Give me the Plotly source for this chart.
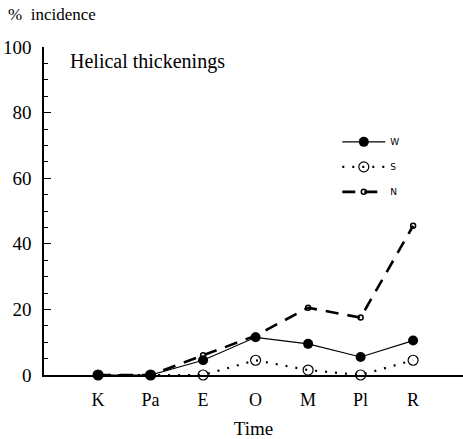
import plotly.graph_objects as go

stages = ["K", "Pa", "E", "O", "M", "Pl", "R"]
w_vals = [0, 0, 4.5, 11.5, 9.5, 5.5, 10.5]
s_vals = [0, 0, 0, 4.5, 1.5, 0, 4.5]
n_vals = [0, 0, 6, 12, 20.5, 17.5, 45.5]
y_ticks = [0, 20, 40, 60, 80, 100]

FONT = "Liberation Serif"
x_idx = list(range(len(stages)))

fig = go.Figure()
fig.add_trace(go.Scatter(
    x=x_idx, y=w_vals, name="W", legendgroup="w", mode="lines+markers",
    line=dict(color="black", width=1.2),
    marker=dict(symbol="circle", size=10, color="black"),
    cliponaxis=False))
fig.add_trace(go.Scatter(
    x=x_idx, y=s_vals, name="S", legendgroup="s", mode="lines+markers",
    line=dict(color="black", width=2.2, dash="2px,8px"),
    marker=dict(symbol="circle-open", size=10, color="black", line=dict(width=1.2)),
    cliponaxis=False))
fig.add_trace(go.Scatter(
    x=x_idx, y=n_vals, name="N", legendgroup="n", mode="lines+markers",
    line=dict(color="black", width=2.6, dash="13px,9px"),
    marker=dict(symbol="circle-open", size=5, color="black", line=dict(width=1.5)),
    cliponaxis=False))

fig.update_layout(
    width=463, height=439,
    margin=dict(l=44, r=0, t=47, b=64),
    paper_bgcolor="white", plot_bgcolor="white",
    font=dict(family=FONT, color="black", size=15),
    showlegend=True,
    legend=dict(x=0.70, y=0.755, xanchor="left", yanchor="top",
                font=dict(family="DejaVu Sans", size=9), itemwidth=43,
                tracegroupgap=6, bgcolor="rgba(0,0,0,0)"),
    xaxis=dict(
        range=[-1.03, 6.95], tickmode="array", tickvals=x_idx, ticktext=stages,
        showgrid=False, zeroline=False, showline=True, linecolor="black", linewidth=2,
        ticks="", tickfont=dict(family=FONT, size=18), ticklabelstandoff=7,
        title=dict(text="Time", font=dict(family=FONT, size=19), standoff=14)),
    yaxis=dict(
        range=[0, 100], tickmode="array", tickvals=y_ticks,
        showgrid=False, zeroline=False, showline=True, linecolor="black", linewidth=1.5,
        ticks="inside", ticklen=7, tickwidth=1.3, tickcolor="black",
        minor=dict(ticks="inside", dtick=5, ticklen=4, tickwidth=1, tickcolor="black"),
        tickfont=dict(family=FONT, size=19), ticklabelstandoff=7),
    annotations=[
        dict(text="%  incidence", xref="paper", yref="paper", x=-0.090, y=1.10,
             xanchor="left", yanchor="middle", showarrow=False,
             font=dict(family=FONT, size=17)),
        dict(text="Helical thickenings", xref="paper", yref="paper", x=0.057, y=0.957,
             xanchor="left", yanchor="middle", showarrow=False,
             font=dict(family=FONT, size=20)),
    ],
)

fig.write_html("out.html")
